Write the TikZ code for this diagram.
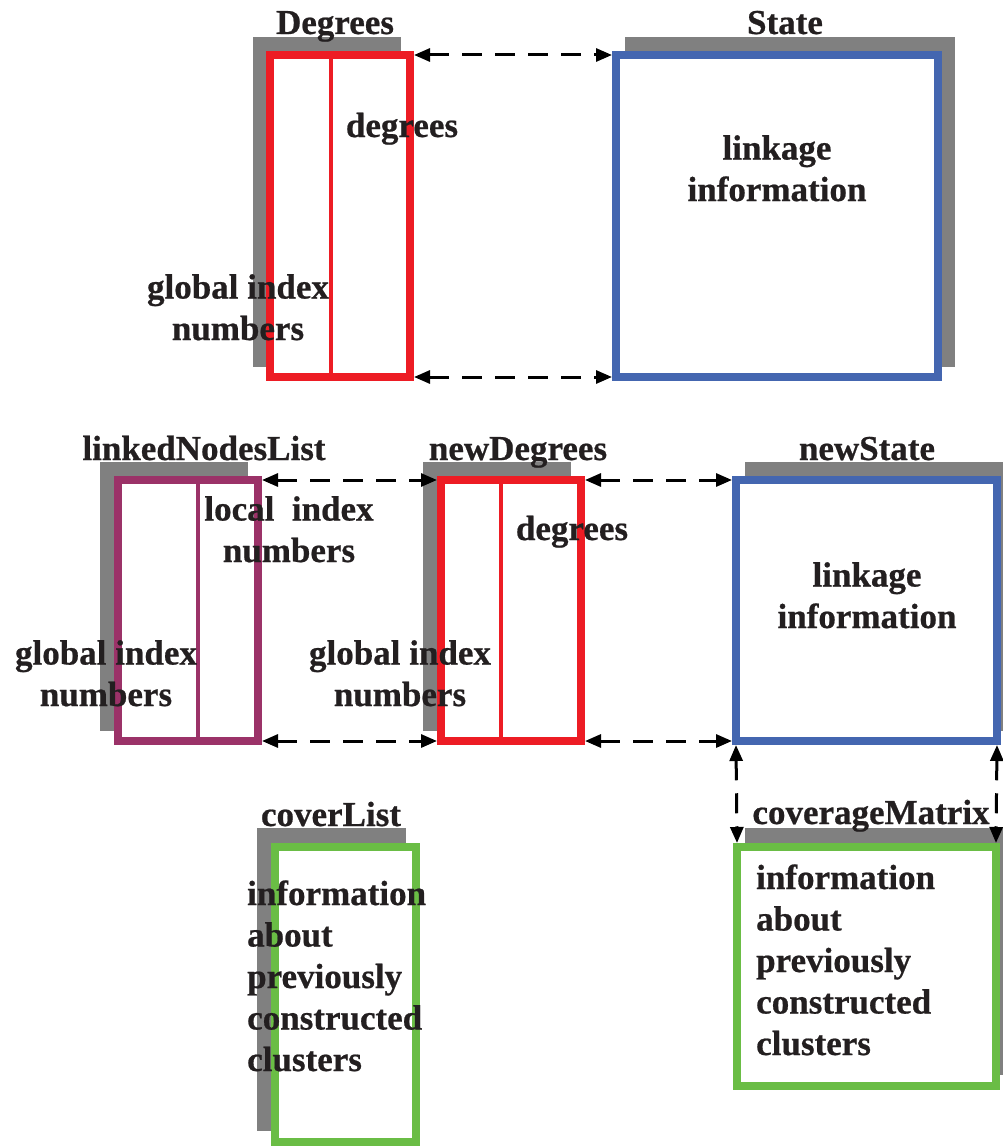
\documentclass[tikz,border=0pt]{standalone}
\usepackage{fontspec}
\setmainfont{Liberation Serif}[BoldFeatures={FakeBold=0.6}]
\usetikzlibrary{arrows.meta,backgrounds}
\definecolor{cred}{HTML}{ED1C24}
\definecolor{cblue}{HTML}{4466B0}
\definecolor{cpurple}{HTML}{9B3268}
\definecolor{cgreen}{HTML}{6ABD45}
\definecolor{cshadow}{HTML}{808080}
\definecolor{ctext}{HTML}{231F20}
\begin{document}
\begin{tikzpicture}[x=1pt,y=-1pt,
  box/.style={draw, line width=8pt, fill=white, inner sep=0pt},
  lbl/.style={font=\bfseries\fontsize{35}{41.5}\selectfont, text=ctext, inner sep=0pt, anchor=base},
  body/.style={lbl, align=left, anchor=base west},
  twoline/.style={lbl, align=center},
  conn/.style={line width=3pt, dash pattern=on 20pt off 13pt, {Triangle[length=16pt,width=13pt]}-{Triangle[length=16pt,width=13pt]}},
  divider/.style={line width=4pt},
]
\useasboundingbox (0,0) rectangle (1003,1148);

% boxes
\node[box, draw=cred, minimum width=140pt, minimum height=322pt] (deg) at (340,216) {};
\node[box, draw=cblue, minimum width=322pt, minimum height=322pt] (st) at (777,216) {};
\node[box, draw=cpurple, minimum width=140pt, minimum height=261pt] (lnl) at (188,610.5) {};
\node[box, draw=cred, minimum width=140pt, minimum height=261pt] (nd) at (511,610.5) {};
\node[box, draw=cblue, minimum width=261pt, minimum height=261pt] (ns) at (866.5,610.5) {};
\node[box, draw=cgreen, minimum width=141pt, minimum height=295pt] (cl) at (345.5,994.5) {};
\node[box, draw=cgreen, minimum width=259pt, minimum height=239pt] (cm) at (866.5,966.5) {};

% shadows
\begin{scope}[on background layer]
  \fill[cshadow] ([shift={(-13,-14)}]deg.south west) rectangle ([shift={(-13,-14)}]deg.north east);
  \fill[cshadow] ([shift={(13,-14)}]st.south west) rectangle ([shift={(13,-14)}]st.north east);
  \fill[cshadow] ([shift={(-14,-14)}]lnl.south west) rectangle ([shift={(-14,-14)}]lnl.north east);
  \fill[cshadow] ([shift={(-14,-14)}]nd.south west) rectangle ([shift={(-14,-14)}]nd.north east);
  \fill[cshadow] ([shift={(13,-14)}]ns.south west) rectangle ([shift={(13,-14)}]ns.north east);
  \fill[cshadow] ([shift={(-14,-15)}]cl.south west) rectangle ([shift={(-14,-15)}]cl.north east);
  \fill[cshadow] ([shift={(12,-15)}]cm.south west) rectangle ([shift={(12,-15)}]cm.north east);
\end{scope}

% dividers
\draw[divider, cred] (331,55) -- (331,377);
\draw[divider, cpurple] (198,480) -- (198,741);
\draw[divider, cred] (501,480) -- (501,741);

% connectors
\draw[conn] ([yshift=-4pt]deg.north east) -- ([yshift=-4pt]st.north west);
\draw[conn] ([yshift=4pt]deg.south east) -- ([yshift=4pt]st.south west);
\draw[conn] ([yshift=-4pt]lnl.north east) -- ([yshift=-4pt]nd.north west);
\draw[conn] ([yshift=4pt]lnl.south east) -- ([yshift=4pt]nd.south west);
\draw[conn] ([yshift=-4pt]nd.north east) -- ([yshift=-4pt]ns.north west);
\draw[conn] ([yshift=4pt]nd.south east) -- ([yshift=4pt]ns.south west);
\draw[conn] ([xshift=4pt]ns.south west) -- ([xshift=4pt]cm.north west);
\draw[conn] ([xshift=-4pt]ns.south east) -- ([xshift=-4pt]cm.north east);

% titles
\node[lbl] (tdeg) at (335,34) {Degrees};
\node[lbl] (tst) at (785,34) {State};
\node[lbl] (tlnl) at (204,460) {linkedNodesList};
\node[lbl] (tnd) at (518,460) {newDegrees};
\node[lbl] (tns) at (867,460) {newState};
\node[lbl] (tcl) at (331,826) {coverList};
\node[lbl] (tcm) at (871,824) {coverageMatrix};

% inner texts (anchor base = baseline of last line)
\node[lbl] (d1) at (402,137) {degrees};
\node[twoline] (li1) at (777,201) {linkage\\information};
\node[twoline] (g1) at (238,340) {global index\\numbers};
\node[twoline] (loc) at (289,562) {local\ \ index\\numbers};
\node[lbl] (d2) at (572,540) {degrees};
\node[twoline] (li2) at (867,628) {linkage\\information};
\node[twoline] (g2) at (106,706) {global index\\numbers};
\node[twoline] (g3) at (400,706) {global index\\numbers};
\node[body] (info1) at (247,1071) {information\\about\\previously\\constructed\\clusters};
\node[body] (info2) at (756,1055) {information\\about\\previously\\constructed\\clusters};
\end{tikzpicture}
\end{document}
